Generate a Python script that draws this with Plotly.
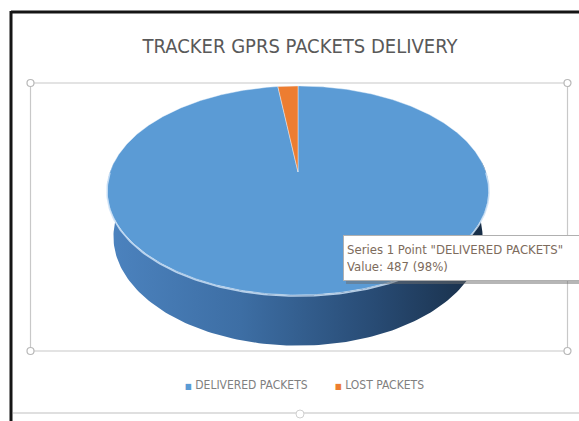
import numpy as np
import plotly.graph_objects as go

# ---------------- data ----------------
categories = ["DELIVERED PACKETS", "LOST PACKETS"]
values = [487, 10]
colors = ["#5b9bd5", "#ed7d31"]
series_name = "Series 1"
title_text = "TRACKER GPRS PACKETS DELIVERY"
tooltip_index = 0

# ---------------- geometry / style ----------------
W, H = 579, 421
CX, CY = 298, 172          # pie centre on screen
S = 188                    # horizontal radius (px)
ELEV = np.radians(32.6)    # viewing elevation
DIST = 4.76                # perspective distance (radius units)
THICK = 0.30               # pie thickness (radius units)
FONT = "Liberation Sans Narrow, DejaVu Sans Condensed, Arial Narrow, sans-serif"


def project(X, Yd, Z):
    ce, se = np.cos(ELEV), np.sin(ELEV)
    v = Z * ce + Yd * se
    w = -Z * se + Yd * ce
    f = 1.0 / (1.0 + w / DIST)
    return CX + S * X * f, CY - S * v * f


def ring(a_deg, z):
    a = np.radians(a_deg)
    return project(np.sin(a), np.cos(a), z)


total = float(sum(values))
fracs = [v / total for v in values]
bounds = np.concatenate([[0.0], np.cumsum(fracs) * 360.0])

fig = go.Figure()

# side walls (front, visible part)
VIS0, VIS1 = 84.0, 276.0
for i, (a0, a1) in enumerate(zip(bounds[:-1], bounds[1:])):
    lo, hi = max(a0, VIS0), min(a1, VIS1)
    if hi <= lo:
        continue
    a = np.linspace(lo, hi, 160)
    tx, ty = ring(a, 0.0)
    bx, by = ring(a[::-1], -THICK)
    xs = np.concatenate([tx, bx, tx[:1]])
    ys = np.concatenate([ty, by, ty[:1]])
    scale = ([[0, "#4c83bf"], [0.35, "#3d6ea4"], [0.7, "#284b74"], [1, "#172c44"]]
             if i == 0 else [[0, "#c96a2a"], [1, "#7a3e14"]])
    fig.add_trace(go.Scatter(
        x=xs[::-1], y=ys[::-1], mode="lines", fill="toself",
        fillgradient=dict(type="horizontal", colorscale=scale),
        line=dict(width=0, color="rgba(0,0,0,0)"),
        hoverinfo="skip", showlegend=False))

# top faces
for i, (a0, a1) in enumerate(zip(bounds[:-1], bounds[1:])):
    a = np.linspace(a0, a1, max(8, int((a1 - a0) * 2)))
    ex, ey = ring(a, 0.0)
    cx0, cy0 = project(0.0, 0.0, 0.0)
    xs = np.concatenate([[cx0], ex, [cx0]])
    ys = np.concatenate([[cy0], ey, [cy0]])
    fig.add_trace(go.Scatter(
        x=xs, y=ys, mode="lines", fill="toself", fillcolor=colors[i],
        line=dict(width=0.8, color="rgba(235,243,252,0.55)"),
        hoverinfo="skip", showlegend=False, name=categories[i]))

# rim highlight along front edge
a = np.linspace(VIS0 + 6, VIS1 - 6, 200)
hx, hy = ring(a, 0.0)
fig.add_trace(go.Scatter(x=hx, y=hy + 1, mode="lines",
                         line=dict(width=1.6, color="rgba(205,226,247,0.85)"),
                         hoverinfo="skip", showlegend=False))

shapes = []
# outer black frame (left and top)
shapes.append(dict(type="line", x0=11, x1=W + 5, y0=12, y1=12,
                   line=dict(color="#151515", width=3)))
shapes.append(dict(type="line", x0=11, x1=11, y0=11, y1=H + 5,
                   line=dict(color="#151515", width=3)))
# bottom faint line
shapes.append(dict(type="line", x0=13, x1=W, y0=413, y1=413,
                   line=dict(color="#d4d4d4", width=1.5)))
shapes.append(dict(type="circle", x0=296, x1=304, y0=410, y1=418,
                   fillcolor="white", line=dict(color="#d0d0d0", width=1)))
# plot-area selection box
PX0, PX1, PY0, PY1 = 30.5, 567.5, 83, 351
shapes.append(dict(type="rect", x0=PX0, x1=PX1, y0=PY0, y1=PY1,
                   line=dict(color="#c8c8c8", width=1.2), layer="below"))
for (hxp, hyp) in [(PX0, PY0), (PX1, PY0), (PX0, PY1), (PX1, PY1)]:
    shapes.append(dict(type="circle", x0=hxp - 3.5, x1=hxp + 3.5,
                       y0=hyp - 3.5, y1=hyp + 3.5, fillcolor="white",
                       line=dict(color="#b8b8b8", width=1.2)))
# tooltip shadow
shapes.append(dict(type="rect", x0=346, x1=W + 10, y0=239, y1=284,
                   fillcolor="rgba(110,110,110,0.5)", line=dict(width=0)))

annotations = []
# tooltip
pct = round(100 * fracs[tooltip_index])
tip = (f'{series_name} Point "{categories[tooltip_index]}"<br>'
       f'Value: {values[tooltip_index]} ({pct}%)')
annotations.append(dict(x=343, y=235, xref="x", yref="y", xanchor="left",
                        yanchor="top", align="left", valign="middle",
                        showarrow=False,
                        text=tip, bgcolor="white", bordercolor="#b0b0b0",
                        borderwidth=1, borderpad=3,
                        font=dict(family=FONT, size=13, color="#7d6b5c"),
                        width=250, height=38))
# legend (built from categories)
leg_x = [183, 333]
for i, cat in enumerate(categories):
    annotations.append(dict(
        x=leg_x[i], y=385, xref="x", yref="y", xanchor="left",
        yanchor="middle", showarrow=False,
        text=f'<span style="color:{colors[i]};font-size:8px">■</span> {cat}',
        font=dict(family=FONT, size=12, color="#7f7f7f")))

fig.update_layout(
    width=W, height=H,
    margin=dict(l=0, r=0, t=0, b=0),
    paper_bgcolor="white", plot_bgcolor="white",
    title=dict(text=title_text, x=300 / W, xanchor="center",
               y=1 - 46 / H, yanchor="middle", yref="container",
               font=dict(family=FONT, size=20, color="#595959")),
    xaxis=dict(range=[0, W], visible=False, fixedrange=True),
    yaxis=dict(range=[H, 0], visible=False, fixedrange=True),
    shapes=shapes, annotations=annotations, showlegend=False,
)

fig.write_html("out.html")
